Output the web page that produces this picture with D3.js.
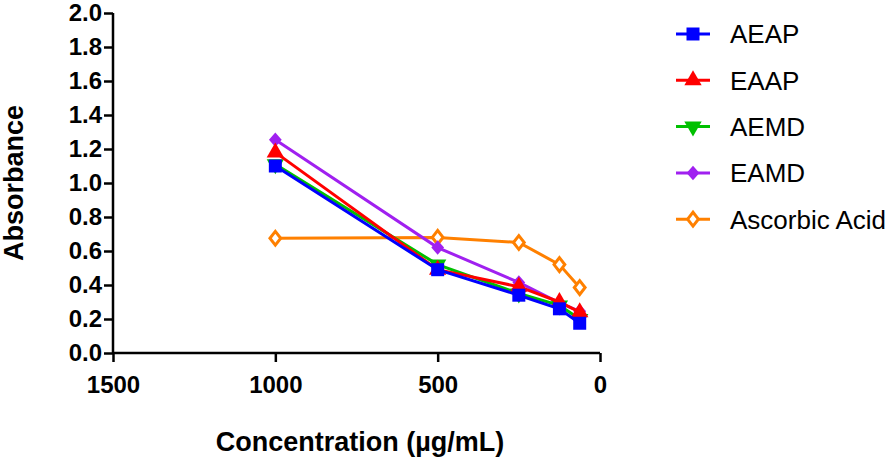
<!DOCTYPE html>
<html><head><meta charset="utf-8">
<script src="https://cdn.jsdelivr.net/npm/d3@7"></script>
<style>body{margin:0;background:#fff;} svg{display:block;font-family:"Liberation Sans",Arial,sans-serif;}</style>
</head><body>
<svg id="chart" width="896" height="457"></svg>
<script>
const concentrations = [1000, 500, 250, 125, 62.5];
const seriesNames = ["AEAP", "EAAP", "AEMD", "EAMD", "Ascorbic Acid"];
const aeap = [1.10, 0.49, 0.34, 0.26, 0.175];
const eaap = [1.18, 0.49, 0.39, 0.30, 0.24];
const aemd = [1.11, 0.52, 0.35, 0.28, 0.20];
const eamd = [1.255, 0.62, 0.415, 0.295, 0.245];
const ascorbic = [0.675, 0.68, 0.65, 0.52, 0.385];
const xTicks = [1500, 1000, 500, 0];
const yTicks = [0, 0.2, 0.4, 0.6, 0.8, 1.0, 1.2, 1.4, 1.6, 1.8, 2.0];

const colors = {"AEAP":"#0000ff","EAAP":"#ff0000","AEMD":"#00c000","EAMD":"#a020f0","Ascorbic Acid":"#ff8000"};
const shapes = ["square", "tri", "tridown", "diamond", "opendiamond"];
const valueLists = [aeap, eaap, aemd, eamd, ascorbic];
const series = seriesNames.map((n, i) => ({name: n, values: valueLists[i], shape: shapes[i]}));

const svg = d3.select("#chart");
const pLeft = 113, pRight = 600, pTop = 13, pBottom = 353;
const x = d3.scaleLinear().domain([1500, 0]).range([pLeft, pRight]);
const y = d3.scaleLinear().domain([0, 2]).range([pBottom, pTop]);

// axes
const gx = svg.append("g").attr("transform", `translate(0,${pBottom})`)
  .call(d3.axisBottom(x).tickValues(xTicks).tickFormat(d3.format("d")).tickSize(9).tickPadding(14));
const gy = svg.append("g").attr("transform", `translate(${pLeft},0)`)
  .call(d3.axisLeft(y).tickValues(yTicks).tickFormat(d3.format(".1f")).tickSize(9).tickPadding(2));
[gx, gy].forEach(g => {
  g.select(".domain").attr("stroke", "#000").attr("stroke-width", 2.5);
  g.selectAll(".tick line").attr("stroke", "#000").attr("stroke-width", 2.5);
  g.selectAll(".tick text").attr("fill", "#000").attr("font-size", 24).attr("font-weight", "bold")
    .attr("font-family", "'Liberation Sans', Arial, sans-serif");
});
gx.select(".domain").attr("d", `M${pLeft},0H${pRight}`);
gy.select(".domain").attr("d", `M0,${pBottom}V${pTop}`);

svg.append("text").attr("x", 360).attr("y", 451).attr("text-anchor", "middle")
  .attr("font-size", 27).attr("font-weight", "bold").text("Concentration (µg/mL)");
svg.append("text").attr("transform", "translate(23,183) rotate(-90)").attr("text-anchor", "middle")
  .attr("font-size", 27).attr("font-weight", "bold").text("Absorbance");

function marker(sel, shape, color) {
  if (shape === "square") {
    sel.append("path").attr("d", d3.symbol(d3.symbolSquare, 169)()).attr("fill", color);
  } else if (shape === "tri") {
    sel.append("path").attr("d", d3.symbol(d3.symbolTriangle, 130)()).attr("fill", color);
  } else if (shape === "tridown") {
    sel.append("path").attr("d", d3.symbol(d3.symbolTriangle, 130)()).attr("transform", "rotate(180)").attr("fill", color);
  } else if (shape === "diamond") {
    sel.append("path").attr("d", d3.symbol(d3.symbolSquare, 90)()).attr("transform", "scale(0.95,1.08) rotate(45)").attr("fill", color);
  } else {
    sel.append("path").attr("d", d3.symbol(d3.symbolSquare, 72)()).attr("transform", "scale(0.9,1.15) rotate(45)")
      .attr("fill", "#fff").attr("stroke", color).attr("stroke-width", 3).attr("vector-effect", "non-scaling-stroke");
  }
}

const line = d3.line().x(d => x(d[0])).y(d => y(d[1]));
const drawOrder = [4, 3, 2, 1, 0];
drawOrder.forEach(i => {
  const s = series[i];
  const pts = concentrations.map((c, j) => [c, s.values[j]]);
  const g = svg.append("g");
  g.append("path").attr("d", line(pts)).attr("fill", "none").attr("stroke", colors[s.name]).attr("stroke-width", 3);
  pts.forEach(p => {
    const m = g.append("g").attr("transform", `translate(${x(p[0])},${y(p[1])})`);
    marker(m, s.shape, colors[s.name]);
  });
});

// legend
const legend = svg.append("g");
series.forEach((s, i) => {
  const ly = 34 + i * 46.3;
  const g = legend.append("g").attr("transform", `translate(0,${ly})`);
  g.append("line").attr("x1", 676).attr("x2", 710).attr("y1", 0).attr("y2", 0)
    .attr("stroke", colors[s.name]).attr("stroke-width", 3);
  const m = g.append("g").attr("transform", "translate(693,0)");
  marker(m, s.shape, colors[s.name]);
  g.append("text").attr("x", 730).attr("y", 0).attr("dy", "0.36em").attr("font-size", 26).text(s.name);
});
</script>
</body></html>
